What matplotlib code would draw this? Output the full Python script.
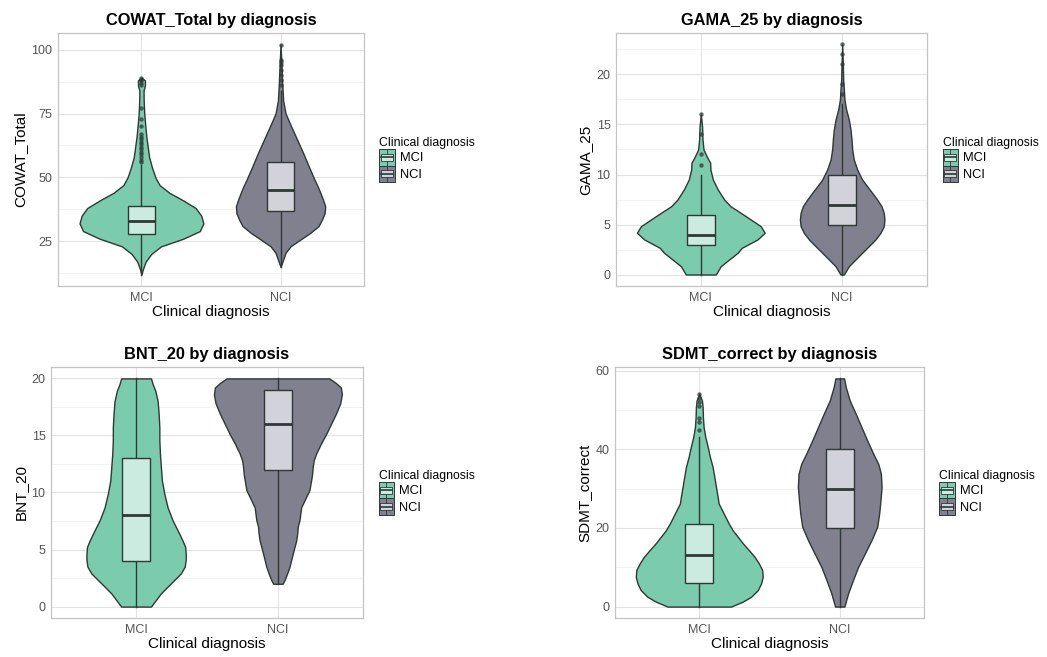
import numpy as np
import matplotlib
matplotlib.use("Agg")
import matplotlib.pyplot as plt
from matplotlib.patches import Rectangle
from matplotlib.lines import Line2D
from matplotlib.legend_handler import HandlerBase

plt.rcParams["font.family"] = ["Liberation Sans", "DejaVu Sans"]

# ---- data -------------------------------------------------------------
groups = ["MCI", "NCI"]
variables = ["COWAT_Total", "GAMA_25", "BNT_20", "SDMT_correct"]

# density profiles (value, half-width in category units) per variable/group
cowat_mci_y = [12, 14, 17, 20, 23, 26, 29, 32, 35, 38, 41, 44, 47, 50, 54, 58, 62, 66, 70, 75, 80, 84, 86, 88, 89]
cowat_mci_w = [0, .01, .03, .07, .14, .30, .42, .445, .43, .39, .30, .20, .13, .10, .075, .055, .045, .035, .028, .02, .016, .015, .025, .025, 0]
cowat_nci_y = [15, 18, 20.5, 23, 25.7, 28.3, 31, 33.5, 36, 38.7, 41.3, 44, 46.5, 49, 54.4, 59.6, 64.8, 70, 75, 80, 87, 93.5, 102]
cowat_nci_w = [0, .02, .036, .071, .143, .214, .274, .298, .317, .321, .305, .286, .267, .245, .202, .162, .119, .076, .036, .019, .012, .007, 0]

gama_mci_y = [0, .83, 1.5, 2.17, 2.67, 3.5, 4.17, 4.83, 5.5, 6.17, 6.83, 7.5, 8.5, 9.5, 10.5, 11.17, 11.8, 12.5, 13.5, 14.8, 16]
gama_mci_w = [.106, .141, .2, .26, .29, .40, .452, .424, .353, .282, .21, .165, .12, .085, .068, .066, .042, .019, .012, .009, 0]
gama_nci_y = [0, .83, 1.5, 2.17, 2.83, 3.5, 4.17, 4.83, 5.5, 6.17, 6.83, 7.5, 8.17, 8.83, 9.5, 10.5, 11.5, 12.5, 13.5, 14.5, 15.5, 16.5, 17.5, 18.5, 19.5, 20.8, 23]
gama_nci_w = [.012, .047, .094, .141, .188, .235, .271, .294, .299, .294, .278, .247, .212, .176, .141, .106, .082, .071, .066, .059, .047, .028, .016, .012, .007, .005, 0]

bnt_mci_y = [0, .58, 1.16, 1.75, 2.33, 2.9, 3.5, 4.1, 4.66, 5.24, 5.8, 6.4, 7, 7.57, 8.7, 9.9, 11.06, 12.2, 13.4, 14.6, 15.7, 16.9, 18, 18.9, 19.5, 20]
bnt_mci_w = [.105, .14, .175, .222, .269, .315, .343, .35, .35, .346, .327, .304, .28, .257, .222, .199, .182, .175, .168, .164, .164, .159, .152, .136, .117, .105]
bnt_nci_y = [2, 2.33, 2.9, 3.5, 4.66, 5.8, 6.4, 7, 7.57, 8.7, 9.3, 10.2, 11.06, 11.6, 12.2, 12.8, 13.4, 14.3, 15.1, 16, 16.9, 17.8, 18.6, 19.2, 19.6, 20]
bnt_nci_w = [.033, .047, .065, .082, .105, .129, .136, .14, .152, .164, .187, .222, .234, .241, .245, .252, .269, .304, .339, .374, .409, .439, .451, .444, .409, .362]

sdmt_mci_y = [0, 1.27, 2.5, 4.2, 5.9, 7.6, 9.3, 11, 12.7, 14.4, 16.1, 17.75, 19.4, 21.1, 22.8, 24.5, 26.2, 27.9, 30.4, 33, 35.5, 38, 40.6, 43.1, 45.6, 48.2, 50.7, 52.4, 54.1]
sdmt_mci_w = [.226, .31, .369, .417, .44, .452, .448, .424, .393, .352, .31, .274, .238, .21, .186, .162, .138, .131, .119, .107, .095, .076, .06, .043, .031, .026, .024, .019, 0]
sdmt_nci_y = [0, 3.4, 6.8, 10.1, 13.5, 16.9, 20.3, 23.7, 27, 30.4, 33.8, 36.3, 38.9, 42.3, 45.6, 49, 52.4, 55.8, 58]
sdmt_nci_w = [.033, .06, .095, .131, .179, .226, .267, .281, .29, .298, .293, .274, .238, .195, .155, .114, .071, .043, .031]

# box statistics: (whisker low, Q1, median, Q3, whisker high)
cowat_box = {"MCI": (12, 28, 33, 39, 55), "NCI": (15, 37, 45, 56, 84)}
gama_box = {"MCI": (0, 3, 4, 6, 10), "NCI": (0, 5, 7, 10, 17)}
bnt_box = {"MCI": (0, 4, 8, 13, 20), "NCI": (2, 12, 16, 19, 20)}
sdmt_box = {"MCI": (0, 6, 13, 21, 43), "NCI": (0, 20, 30, 40, 58)}

cowat_out = {"MCI": [56, 57, 58, 59, 60, 61, 62, 63, 64, 65, 66, 67, 70, 73, 77, 86, 87, 88, 88, 89],
             "NCI": [86, 88, 90, 92, 94, 95, 96, 102]}
gama_out = {"MCI": [11, 12, 14, 16], "NCI": [18, 19, 21, 22, 23]}
bnt_out = {"MCI": [], "NCI": []}
sdmt_out = {"MCI": [45, 47, 48, 51, 52, 53, 54], "NCI": []}

y_major = {"COWAT_Total": [25, 50, 75, 100], "GAMA_25": [0, 5, 10, 15, 20],
           "BNT_20": [0, 5, 10, 15, 20], "SDMT_correct": [0, 20, 40, 60]}

# ---- styling ----------------------------------------------------------
violin_fill = {"MCI": "#7BCCAF", "NCI": "#80808F"}
box_fill = {"MCI": "#CBEBE0", "NCI": "#D2D2DA"}
line_col = "#2E3835"
grid_major = "#E3E3E3"
grid_minor = "#F1F1F1"
border_col = "#C4C4C4"
tick_col = "#555555"

panels = [
    ("COWAT_Total", {"MCI": (cowat_mci_y, cowat_mci_w), "NCI": (cowat_nci_y, cowat_nci_w)}, cowat_box, cowat_out),
    ("GAMA_25", {"MCI": (gama_mci_y, gama_mci_w), "NCI": (gama_nci_y, gama_nci_w)}, gama_box, gama_out),
    ("BNT_20", {"MCI": (bnt_mci_y, bnt_mci_w), "NCI": (bnt_nci_y, bnt_nci_w)}, bnt_box, bnt_out),
    ("SDMT_correct", {"MCI": (sdmt_mci_y, sdmt_mci_w), "NCI": (sdmt_nci_y, sdmt_nci_w)}, sdmt_box, sdmt_out),
]

W, H = 1047, 657
rects_px = [(58, 33, 364, 286), (616, 33, 927, 286), (51, 367, 363, 618), (615, 367, 924, 618)]


class GroupKey:
    def __init__(self, vfill, bfill):
        self.vfill = vfill
        self.bfill = bfill


class GroupKeyHandler(HandlerBase):
    def create_artists(self, legend, orig, xd, yd, width, height, fontsize, trans):
        x0, y0 = -xd, -yd
        arts = [Rectangle((x0, y0), width, height, facecolor=orig.vfill,
                          edgecolor=line_col, linewidth=0.7, transform=trans)]
        bx0, bw = x0 + width * 0.12, width * 0.76
        arts.append(Rectangle((bx0, y0 + height * 0.28), bw, height * 0.44,
                              facecolor=orig.bfill, edgecolor=line_col,
                              linewidth=0.6, transform=trans))
        arts.append(Line2D([bx0, bx0 + bw], [y0 + height * 0.5] * 2,
                           color=line_col, linewidth=1.2, transform=trans))
        for a, b in ((0.0, 0.28), (0.72, 1.0)):
            arts.append(Line2D([x0 + width / 2] * 2, [y0 + height * a, y0 + height * b],
                               color=line_col, linewidth=0.6, transform=trans))
        return arts


fig = plt.figure(figsize=(W / 100, H / 100), dpi=100)
fig.patch.set_facecolor("white")

for (name, profiles, boxes, outs), (l, t, r, b) in zip(panels, rects_px):
    ax = fig.add_axes([l / W, 1 - b / H, (r - l) / W, (b - t) / H])
    ax.set_facecolor("white")

    majors = y_major[name]
    step = majors[1] - majors[0]
    minors = [m + step / 2 for m in [majors[0] - step] + majors]
    ax.set_yticks(majors)
    ax.set_yticks(minors, minor=True)
    ax.set_xticks([1, 2])
    ax.set_xticklabels(groups)

    values = [v for g in groups for v in list(profiles[g][0]) + list(outs[g])]
    lo, hi = min(values), max(values)
    pad = (hi - lo) * 0.05
    ax.set_ylim(lo - pad, hi + pad)
    ax.set_xlim(0.4, 2.6)

    ax.grid(True, which="major", color=grid_major, linewidth=0.8, zorder=0)
    ax.grid(True, which="minor", axis="y", color=grid_minor, linewidth=0.6, zorder=0)
    ax.set_axisbelow(True)
    ax.tick_params(axis="both", which="both", length=0, labelsize=9,
                   labelcolor=tick_col, pad=4)
    for s in ax.spines.values():
        s.set_color(border_col)
        s.set_linewidth(0.9)

    for i, g in enumerate(groups, start=1):
        ys, ws = np.asarray(profiles[g][0], float), np.asarray(profiles[g][1], float)
        ax.fill_betweenx(ys, i - ws, i + ws, facecolor=violin_fill[g],
                         edgecolor=line_col, linewidth=1.0, zorder=2)
        wlo, q1, med, q3, whi = boxes[g]
        ax.plot([i, i], [wlo, q1], color=line_col, linewidth=1.0, zorder=3)
        ax.plot([i, i], [q3, whi], color=line_col, linewidth=1.0, zorder=3)
        ax.add_patch(Rectangle((i - 0.1, q1), 0.2, q3 - q1, facecolor=box_fill[g],
                               edgecolor=line_col, linewidth=1.0, zorder=4))
        ax.plot([i - 0.1, i + 0.1], [med, med], color=line_col, linewidth=2.0,
                solid_capstyle="butt", zorder=5)
        if outs[g]:
            ax.scatter([i] * len(outs[g]), outs[g], s=10, color=line_col,
                       alpha=0.75, linewidths=0, zorder=6)

    ax.set_title(f"{name} by diagnosis", fontsize=11.8, fontweight="bold", pad=6)
    ax.set_xlabel("Clinical diagnosis", fontsize=11, labelpad=1)
    ax.set_ylabel(name, fontsize=11, labelpad=3)

    handles = [GroupKey(violin_fill[g], box_fill[g]) for g in groups]
    leg = ax.legend(handles, groups, title="Clinical diagnosis",
                    handler_map={GroupKey: GroupKeyHandler()},
                    loc="center left", bbox_to_anchor=(1.05, 0.5),
                    frameon=False, fontsize=9.3, title_fontsize=8.8,
                    handlelength=1.2, handleheight=1.6, labelspacing=0.0,
                    handletextpad=0.4, borderpad=0, borderaxespad=0,
                    alignment="left")

fig.savefig("out.png", dpi=100)
